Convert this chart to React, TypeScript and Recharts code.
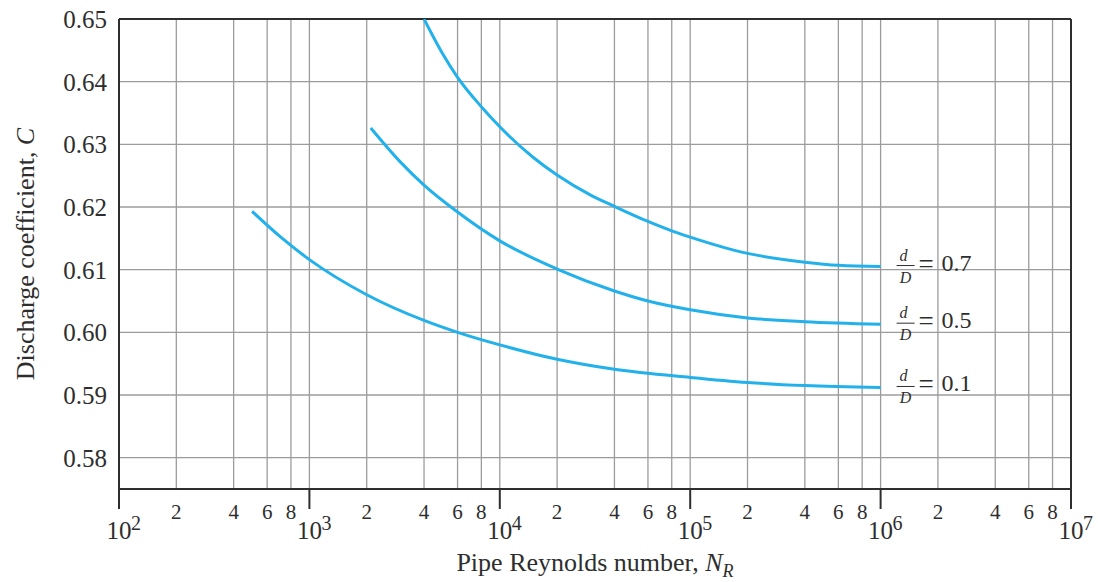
import { LineChart, Line, XAxis, YAxis, CartesianGrid, ReferenceLine } from 'recharts';

document.body.style.margin = '0';

const FONT = '"Liberation Serif", "DejaVu Serif", serif';
const INK = '#2e2e2e';
const GRID = '#9c9c9c';
const CURVE = '#22b1ea';

// Reynolds number ticks (log axis): decades plus 2, 4, 6, 8
const xTicks = [
    100, 200, 400, 600, 800,
    1000, 2000, 4000, 6000, 8000,
    10000, 20000, 40000, 60000, 80000,
    100000, 200000, 400000, 600000, 800000,
    1000000, 2000000, 4000000, 6000000, 8000000,
    10000000,
];
const yTicks = [0.58, 0.59, 0.6, 0.61, 0.62, 0.63, 0.64, 0.65];

// d/D = 0.1
const reynolds01 = [500, 700, 1000, 2000, 4000, 6000, 10000, 20000, 40000, 100000, 200000, 400000, 1000000];
const coeff01 = [0.6193, 0.6153, 0.6116, 0.606, 0.6019, 0.6, 0.598, 0.5957, 0.5941, 0.5928, 0.592, 0.5915, 0.5912];

// d/D = 0.5
const reynolds05 = [2100, 3000, 4000, 6000, 10000, 20000, 40000, 60000, 100000, 200000, 400000, 1000000];
const coeff05 = [0.6326, 0.6272, 0.6235, 0.6192, 0.6146, 0.6101, 0.6066, 0.605, 0.6036, 0.6023, 0.6017, 0.6013];

// d/D = 0.7
const reynolds07 = [4000, 5000, 6000, 8000, 10000, 15000, 20000, 30000, 40000, 60000, 80000, 100000, 200000, 400000, 600000, 1000000];
const coeff07 = [0.65, 0.6445, 0.6407, 0.636, 0.6328, 0.6279, 0.6251, 0.6219, 0.6201, 0.6177, 0.6162, 0.6152, 0.6126, 0.6112, 0.6107, 0.6105];

const series = [
    { ratio: '0.7', n: reynolds07, c: coeff07 },
    { ratio: '0.5', n: reynolds05, c: coeff05 },
    { ratio: '0.1', n: reynolds01, c: coeff01 },
].map(s => ({ ...s, data: s.n.map((n, i) => ({ n, c: s.c[i] })) }));

function XTick({ x, y, payload }: any) {
    const v = payload.value as number;
    const exp = Math.floor(Math.log10(v) + 1e-9);
    const lead = Math.round(v / Math.pow(10, exp));
    if (lead === 1) {
        return (
            <g fontFamily={FONT} fill={INK}>
                <line x1={x} x2={x} y1={y} y2={y + 20} stroke={INK} strokeWidth={2} />
                <text x={x} y={y + 50} textAnchor="middle" fontSize={25}>10</text>
                <text x={x + 12} y={y + 41} fontSize={20}>{exp}</text>
            </g>
        );
    }
    return (
        <text x={x} y={y + 30} textAnchor="middle" fontSize={21} fontFamily={FONT} fill={INK}>
            {lead}
        </text>
    );
}

function RatioLabel({ x, y, ratio }: { x: number; y: number; ratio: string }) {
    const yc = y - 3;
    return (
        <g fontFamily={FONT} fill={INK}>
            <text x={x + 23} y={yc - 3} textAnchor="middle" fontSize={16} fontStyle="italic">d</text>
            <line x1={x + 16} x2={x + 34} y1={yc + 2} y2={yc + 2} stroke={INK} strokeWidth={1} />
            <text x={x + 25} y={yc + 19} textAnchor="middle" fontSize={16} fontStyle="italic">D</text>
            <text x={x + 38} y={yc + 9} fontSize={27}>=</text>
            <text x={x + 61} y={yc + 7} fontSize={24}>{ratio}</text>
        </g>
    );
}

function XLabel({ viewBox }: any) {
    const cx = viewBox.x + viewBox.width / 2;
    return (
        <text x={cx} y={viewBox.y + 82} textAnchor="middle" fontSize={26} fontFamily={FONT} fill={INK}>
            Pipe Reynolds number, <tspan fontStyle="italic">N</tspan>
            <tspan fontStyle="italic" fontSize={18} dy={6}>R</tspan>
        </text>
    );
}

function YLabel({ viewBox }: any) {
    const cy = viewBox.y + viewBox.height / 2;
    const x = 34;
    return (
        <text
            x={x}
            y={cy}
            transform={`rotate(-90, ${x}, ${cy})`}
            textAnchor="middle"
            fontSize={26}
            fontFamily={FONT}
            fill={INK}
        >
            Discharge coefficient, <tspan fontStyle="italic">C</tspan>
        </text>
    );
}

export default function App() {
    return (
        <div style={{ width: 1098, height: 582, background: '#fff' }}>
            <LineChart width={1098} height={582} margin={{ top: 19, right: 27, left: 19, bottom: 0 }}>
                <CartesianGrid stroke={GRID} strokeWidth={1.3} />
                <XAxis
                    dataKey="n"
                    type="number"
                    scale="log"
                    domain={[100, 10000000]}
                    ticks={xTicks}
                    interval={0}
                    allowDataOverflow
                    height={93}
                    tickSize={0}
                    tickMargin={0}
                    tickLine={false}
                    axisLine={{ stroke: INK, strokeWidth: 2 }}
                    tick={<XTick />}
                    label={{ content: (p: any) => <XLabel {...p} /> }}
                />
                <YAxis
                    dataKey="c"
                    type="number"
                    domain={[0.575, 0.65]}
                    ticks={yTicks}
                    interval={0}
                    allowDataOverflow
                    width={100}
                    tickSize={0}
                    tickMargin={12}
                    tickLine={false}
                    axisLine={{ stroke: INK, strokeWidth: 2 }}
                    tickFormatter={(v: number) => v.toFixed(2)}
                    tick={{ fontSize: 25, fontFamily: FONT, fill: INK }}
                    label={{ content: (p: any) => <YLabel {...p} /> }}
                />
                <ReferenceLine y={0.65} stroke={INK} strokeWidth={2} />
                <ReferenceLine x={10000000} stroke={INK} strokeWidth={2} />
                {series.map(s => (
                    <Line
                        key={s.ratio}
                        data={s.data}
                        dataKey="c"
                        type="monotone"
                        stroke={CURVE}
                        strokeWidth={3}
                        dot={false}
                        isAnimationActive={false}
                        label={(p: any) =>
                            p.index === s.data.length - 1 ? (
                                <RatioLabel key={s.ratio} x={p.x} y={p.y} ratio={s.ratio} />
                            ) : (
                                <g key={`${s.ratio}-${p.index}`} />
                            )
                        }
                    />
                ))}
            </LineChart>
        </div>
    );
}
